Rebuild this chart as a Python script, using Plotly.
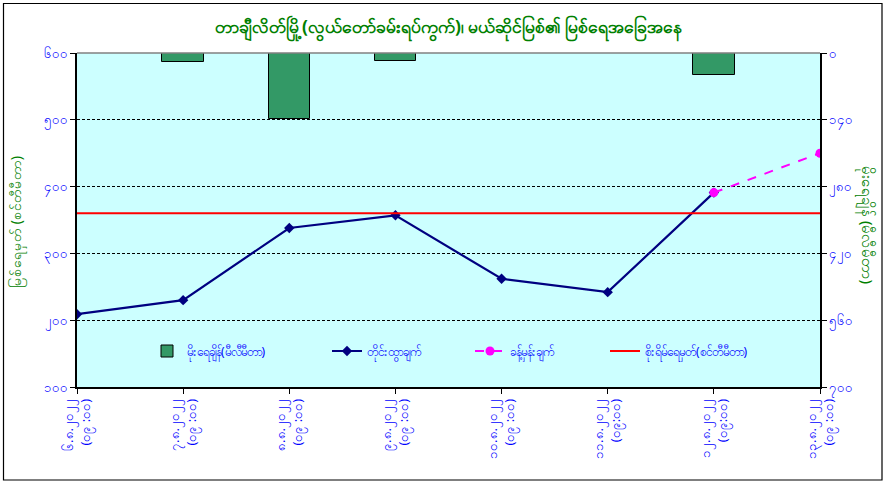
import plotly.graph_objects as go

# ---- data ----
dates = ["၆.၈.၂၀၂၂", "၇.၈.၂၀၂၂", "၈.၈.၂၀၂၂", "၉.၈.၂၀၂၂",
         "၁၀.၈.၂၀၂၂", "၁၁.၈.၂၀၂၂", "၁၂.၈.၂၀၂၂", "၁၃.၈.၂၀၂၂"]
times = ["(၀၉ :၀၀)", "(၀၉ :၀၀)", "(၀၉ :၀၀)", "(၀၉ :၀၀)",
         "(၀၉ :၀၀)", "(၀၉:၀၀)", "(၀၉:၀၀)", "(၀၉ :၀၀)"]
rainfall_mm = [1, 19, 138, 17, 0, 0, 46]
water_level_cm = [209, 230, 338, 357, 262, 242, 391]
forecast_idx = [6, 7]
forecast_cm = [391, 450]
warning_level_cm = 360
left_ticks = [100, 200, 300, 400, 500, 600]
right_ticks = [0, 140, 280, 420, 560, 700]

title_text = "တာချီလိတ်မြို့(လွယ်တော်ခမ်းရပ်ကွက်)၊ မယ်ဆိုင်မြစ်၏ မြစ်ရေအခြေအနေ"
left_title = "မြစ်ရေမှတ် (စင်တီမီတာ)"
right_title = "မိုးရေချိန် (မီလီမီတာ)"
names = ["မိုးရေချိန်(မီလီမီတာ)", "တိုင်းထွာချက်", "ခန့်မှန်းချက်", "စိုးရိမ်ရေမှတ်(စင်တီမီတာ)"]

MY = str.maketrans("0123456789", "၀၁၂၃၄၅၆၇၈၉")
def my(n):
    return str(n).translate(MY)

x_all = list(range(len(dates)))
FONT = "Noto Sans, DejaVu Sans, sans-serif"
BLUE = "#0000FF"
GREEN = "#008000"

fig = go.Figure()
fig.add_trace(go.Bar(
    x=x_all[:len(rainfall_mm)], y=rainfall_mm, yaxis="y2", width=0.39,
    marker=dict(color="#339966", line=dict(color="black", width=1)),
    name=names[0], legend="legend"))
fig.add_trace(go.Scatter(
    x=x_all[:len(water_level_cm)], y=water_level_cm, mode="lines+markers",
    line=dict(color="#000080", width=2.2),
    marker=dict(symbol="diamond", size=8, color="#000080"),
    name=names[1], legend="legend2"))
fig.add_trace(go.Scatter(
    x=forecast_idx, y=forecast_cm, mode="lines+markers",
    line=dict(color="#FF00FF", width=2, dash="dash"),
    marker=dict(symbol="circle", size=9, color="#FF00FF"),
    name=names[2], legend="legend3"))
fig.add_trace(go.Scatter(
    x=[x_all[0], x_all[-1]], y=[warning_level_cm, warning_level_cm], mode="lines",
    line=dict(color="#FF0000", width=2),
    name=names[3], legend="legend4"))

L, R, T, B = 77, 820, 53, 387
W, H = 885, 483
pw, ph = R - L, B - T

def px(x):
    return (x - L) / pw
def py(y):
    return (B - y) / ph

def leg(xpix):
    return dict(orientation="h", x=px(xpix), y=py(351), xanchor="left", yanchor="middle",
                bgcolor="rgba(0,0,0,0)", font=dict(family=FONT, size=12, color=BLUE),
                itemwidth=30)

fig.update_layout(
    width=W, height=H,
    margin=dict(l=L, r=W - R, t=T, b=H - B, pad=0),
    paper_bgcolor="white", plot_bgcolor="#CCFFFF",
    font=dict(family=FONT, color=BLUE, size=12),
    title=dict(text=title_text, x=0.5, xref="paper", xanchor="center",
               y=1 - 27 / H, yref="container", yanchor="middle",
               font=dict(family=FONT, size=17.5, color=GREEN, weight="bold")),
    showlegend=True,
    legend=leg(147), legend2=leg(327), legend3=leg(470), legend4=leg(605),
    xaxis=dict(range=[x_all[0], x_all[-1]], tickvals=x_all,
               ticktext=[d + "<br>" + t for d, t in zip(dates, times)],
               tickangle=-90, showgrid=False, zeroline=False,
               showline=True, linecolor="black", linewidth=1.5,
               ticks="outside", ticklen=5, tickcolor="black",
               tickfont=dict(family=FONT, size=13, color=BLUE)),
    yaxis=dict(range=[left_ticks[0], left_ticks[-1]], tickvals=left_ticks,
               ticktext=[my(v) for v in left_ticks],
               showgrid=True, gridcolor="black", griddash="3px,2px", gridwidth=1,
               zeroline=False, showline=True, linecolor="black", linewidth=1.5,
               ticks="outside", ticklen=5, tickcolor="black",
               tickfont=dict(family=FONT, size=13, color=BLUE)),
    yaxis2=dict(range=[right_ticks[-1], right_ticks[0]], tickvals=right_ticks,
                ticktext=[my(v) for v in right_ticks],
                overlaying="y", side="right", showgrid=False, zeroline=False,
                showline=True, linecolor="black", linewidth=1.5,
                ticks="outside", ticklen=5, tickcolor="black",
                tickfont=dict(family=FONT, size=13, color=BLUE)),
    bargap=0,
)

# plot area top border (gray) and outer frame
fig.add_shape(type="line", xref="paper", yref="paper", x0=0, x1=1, y0=1, y1=1,
              line=dict(color="#808080", width=1.5), layer="above")
fig.add_shape(type="rect", xref="paper", yref="paper",
              x0=px(3.5), x1=px(882), y0=py(480), y1=py(3.5),
              line=dict(color="black", width=1.2), fillcolor="rgba(0,0,0,0)")

fig.add_annotation(text=left_title, xref="paper", yref="paper", x=px(17), y=py(222),
                   textangle=-90, showarrow=False, xanchor="center", yanchor="middle",
                   font=dict(family=FONT, size=14, color=GREEN))
fig.add_annotation(text=right_title, xref="paper", yref="paper", x=px(867), y=py(225),
                   textangle=90, showarrow=False, xanchor="center", yanchor="middle",
                   font=dict(family=FONT, size=15, color=GREEN))

fig.write_html("out.html", config={"displayModeBar": False},
               post_script="document.body.style.margin='0px';")
